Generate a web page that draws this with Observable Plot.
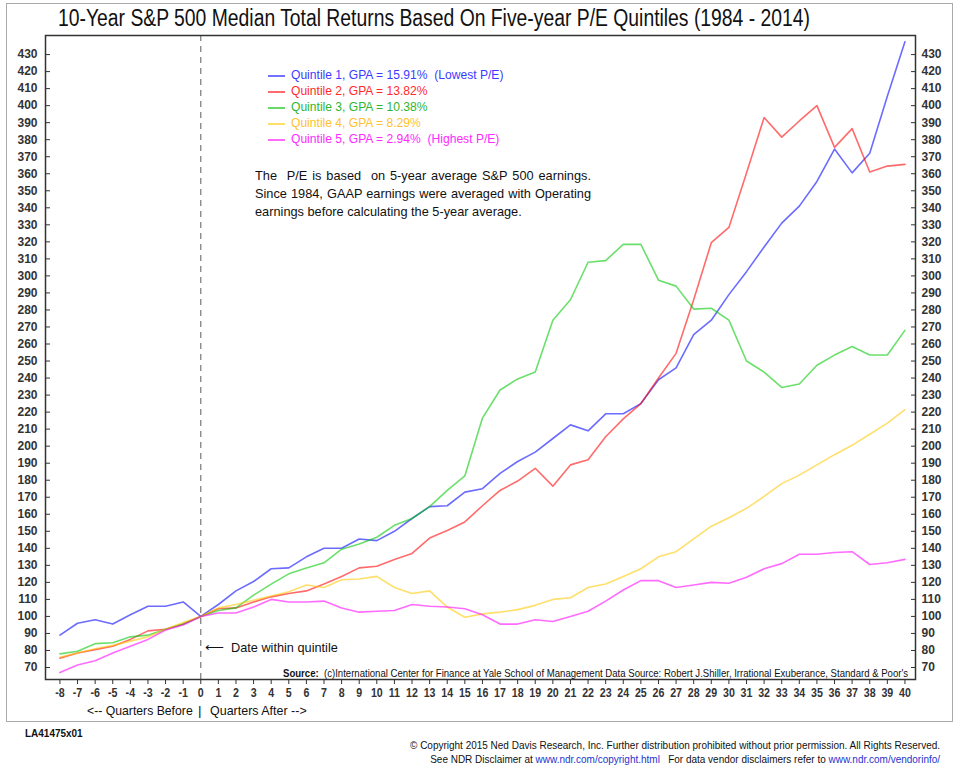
<!DOCTYPE html>
<html>
<head>
<meta charset="utf-8">
<script src="https://cdn.jsdelivr.net/npm/d3@7"></script>
<script src="https://cdn.jsdelivr.net/npm/@observablehq/plot@0.6"></script>
<style>
  html, body { margin: 0; padding: 0; background: #fff; }
  body { width: 961px; height: 772px; position: relative; overflow: hidden;
         font-family: "Liberation Sans", Arial, sans-serif; color: #222; }
  .abs { position: absolute; white-space: nowrap; }
  #outer { position: absolute; left: 6px; top: 3px; width: 945px; height: 717px; border: 1.5px solid #aaa; }
  #chart { position: absolute; left: 0; top: 0; }
  #title { left: 58px; top: 5px; font-size: 23.5px; color: #111; }
  #legend { left: 268px; top: 67px; font-size: 13px; line-height: 16px; }
  #legend .sw { display: inline-block; width: 17px; height: 2px; vertical-align: middle; margin-right: 6px; }
  #note { left: 255px; top: 167px; font-size: 13px; line-height: 18px; color: #111; }
  #note div { text-align: justify; text-align-last: justify; }
  #note div.last { text-align-last: left; }
  #source { left: 283px; top: 667px; font-size: 10.5px; color: #111; }
  #anno { left: 205px; top: 639px; font-size: 13.5px; color: #111; }
  #qb { left: 87px; top: 703px; font-size: 13.5px; color: #111; }
  #qbar { left: 198px; top: 703px; font-size: 13.5px; color: #111; }
  #qa { left: 210px; top: 703px; font-size: 13.5px; color: #111; }
  #code { left: 25px; top: 727px; font-size: 11px; font-weight: bold; color: #111; }
  #copy { right: 21px; top: 738px; font-size: 11px; line-height: 14px; text-align: right; color: #111; }
  #copy a { color: #2233cc; text-decoration: none; }
</style>
</head>
<body>
<div id="outer"></div>
<div id="chart"></div>
<div class="abs" id="title">10-Year S&amp;P 500 Median Total Returns Based On Five-year P/E Quintiles (1984 - 2014)</div>
<div class="abs" id="legend"></div>
<div class="abs" id="note">
  <div>The&nbsp; P/E is based&nbsp; on 5-year average S&amp;P 500 earnings.</div>
  <div>Since 1984, GAAP earnings were averaged with Operating</div>
  <div class="last"><span id="noteLast">earnings before calculating the 5-year average.</span></div>
</div>
<div class="abs" id="source"><b>Source:</b>&nbsp; (c)International Center for Finance at Yale School of Management Data Source: Robert J.Shiller, Irrational Exuberance, Standard &amp; Poor's</div>
<div class="abs" id="anno">&#x27F5;&nbsp; Date within quintile</div>
<div class="abs" id="qb">&lt;-- Quarters Before</div>
<div class="abs" id="qbar">|</div>
<div class="abs" id="qa">Quarters After --&gt;</div>
<div class="abs" id="code">LA41475x01</div>
<div class="abs" id="copy"><span id="copy1">© Copyright 2015 Ned Davis Research, Inc. Further distribution prohibited without prior permission. All Rights Reserved.</span><br>See NDR Disclaimer at <a>www.ndr.com/copyright.html</a>&nbsp;&nbsp; For data vendor disclaimers refer to <a>www.ndr.com/vendorinfo/</a></div>
<script>
const quarters = [-8,-7,-6,-5,-4,-3,-2,-1,0,1,2,3,4,5,6,7,8,9,10,11,12,13,14,15,16,17,18,19,20,21,22,23,24,25,26,27,28,29,30,31,32,33,34,35,36,37,38,39,40];

const quintile1 = [89,96,98,95.5,101,106,106,108.5,100,107,115,120.5,128,128.5,135,140,140,145.5,144.5,150,157.5,164.5,165,173,175,184,191,196.5,204.5,212.5,209,219,219,225,239,246,265.5,274,289,302.5,317,331,341,355.5,374.5,360.5,372,405.5,437.5];
const quintile2 = [75.5,78.5,80.5,82.5,86.5,91.5,92.5,95.5,100,104.5,105,108.5,111.5,113.5,115,119,123.5,128.5,129.5,133.5,137,146,150.5,155.5,165,174,179.5,187,176.5,189,192,205.5,216,225,240,254.5,286,319.5,328.5,360.5,393,381.5,391,400,375.5,386.5,361,364.5,365.5];
const quintile3 = [78,79.5,84,84.5,88,89,92.5,95.5,100,103.5,105,112.5,119,125,128.5,131.5,139.5,142.5,146.5,153.5,157.5,164.5,174,182.5,216.5,233,239.5,243.5,274,286,308,309,318.5,318.5,297.5,294,280.5,281,274,250,243.5,234.5,236.5,247.5,253.5,258.5,253.5,253.5,268];
const quintile4 = [76,78.5,81,83,85.5,88,92.5,96.5,100,105,107,109.5,112,114.5,118.5,117,121.5,122,123.5,117,113.5,115,105.5,99.5,101.5,102.5,104,106.5,110,111,117,119,123.5,128,135,138,145.5,153,158,163.5,170.5,178,183,189,195,200.5,207,213.5,221.5];
const quintile5 = [67,71.5,74,78.5,82.5,86.5,92,95,100,102,102,105.5,110,108.5,108.5,109,105,102.5,103,103.5,107,106,105.5,104.5,101,95.5,95.5,98,97,100,103,109,115.5,121,121,117,118.5,120,119.5,123,128,131,136.5,136.5,137.5,138,130.5,131.5,133.5];

const seriesNames = ["Quintile 1","Quintile 2","Quintile 3","Quintile 4","Quintile 5"];
const legendLabels = [
  "Quintile 1, GPA = 15.91%&nbsp; (Lowest P/E)",
  "Quintile 2, GPA = 13.82%",
  "Quintile 3, GPA = 10.38%",
  "Quintile 4, GPA = 8.29%",
  "Quintile 5, GPA = 2.94%&nbsp; (Highest P/E)"
];
const lineColors = ["#0000ff","#ff0000","#00c800","#ffc800","#ff00ff"];
const swatchColors = ["#7373ff","#ff6b6b","#66d966","#ffdf66","#ff6bff"];
const textColors = ["#3b3bff","#ff2a2a","#2fb52f","#ffc12e","#ff2aff"];
const yTicks = [70,80,90,100,110,120,130,140,150,160,170,180,190,200,210,220,230,240,250,260,270,280,290,300,310,320,330,340,350,360,370,380,390,400,410,420,430];

const allSeries = [quintile1, quintile2, quintile3, quintile4, quintile5];
const rows = [];
allSeries.forEach((vals, i) => vals.forEach((v, j) => rows.push({series: seriesNames[i], q: quarters[j], v})));

const fontFam = '"Liberation Sans", Arial, sans-serif';

const chart = Plot.plot({
  width: 961,
  height: 730,
  marginLeft: 45,
  marginRight: 46,
  marginTop: 35,
  marginBottom: 51,
  style: {fontFamily: fontFam, fontSize: "12px", color: "#222", background: "transparent"},
  x: {domain: [-8.82, 40.6], axis: null},
  y: {domain: [62.95, 441.2], axis: null},
  color: {domain: seriesNames, range: lineColors},
  marks: [
    Plot.ruleX([0], {stroke: "#777", strokeWidth: 1.2, strokeDasharray: "6,5"}),
    Plot.line(rows, {x: "q", y: "v", z: "series", stroke: "series", strokeWidth: 1.6, strokeOpacity: 0.58}),
    Plot.axisY({anchor: "left", label: null, ticks: yTicks, tickSize: 5, dx: 5, tickFormat: () => "", stroke: "#333"}),
    Plot.axisY({anchor: "left", label: null, ticks: yTicks, tickSize: 0, tickPadding: 8, fontWeight: "bold", fontSize: 12, fill: "#333"}),
    Plot.axisY({anchor: "right", label: null, ticks: yTicks, tickSize: 5, dx: -5, tickFormat: () => "", stroke: "#333"}),
    Plot.axisY({anchor: "right", label: null, ticks: yTicks, tickSize: 0, tickPadding: 6, fontWeight: "bold", fontSize: 12, fill: "#333"}),
    Plot.axisX({anchor: "bottom", label: null, ticks: quarters, tickSize: 5, tickPadding: 3, tickFormat: d => String(d), fontWeight: "bold", fontSize: 13, stroke: "#333", fill: "#333"}),
    Plot.frame({stroke: "#333", strokeWidth: 1.5})
  ]
});
document.getElementById("chart").appendChild(chart);

// condense x-axis labels slightly to mimic the narrow face of the original
d3.select(chart).selectAll("g[aria-label='x-axis tick label'] text").each(function() {
  const t = this.getAttribute("transform") || "";
  this.setAttribute("transform", t + " scale(0.82,1)");
});

const legend = document.getElementById("legend");
legendLabels.forEach((lab, i) => {
  const row = document.createElement("div");
  row.innerHTML = `<span class="sw" style="background:${swatchColors[i]}"></span><span class="lt" style="color:${textColors[i]}">${lab}</span>`;
  legend.appendChild(row);
});

function fit(el, natural, target, origin) {
  const s = target / natural;
  el.style.transformOrigin = origin;
  el.style.transform = `scaleX(${s})`;
  return s;
}
const byId = id => document.getElementById(id);
fit(byId("title"), byId("title").offsetWidth, 752, "left top");
{
  const firstText = legend.querySelector(".lt");
  const s = 212 / firstText.offsetWidth;
  legend.querySelectorAll(".lt").forEach(e => { e.style.display = "inline-block"; e.style.transformOrigin = "left center"; e.style.transform = `scaleX(${s})`; });
}
{
  const note = byId("note");
  const w3 = byId("noteLast").offsetWidth;
  const s = 267 / w3;
  note.style.width = (336 / s) + "px";
  note.style.transformOrigin = "left top";
  note.style.transform = `scaleX(${s})`;
}
fit(byId("source"), byId("source").offsetWidth, 625, "left top");
fit(byId("anno"), byId("anno").offsetWidth, 133, "left top");
fit(byId("qb"), byId("qb").offsetWidth, 106, "left top");
fit(byId("qa"), byId("qa").offsetWidth, 97, "left top");
fit(byId("code"), byId("code").offsetWidth, 58, "left top");
fit(byId("copy"), byId("copy1").offsetWidth, 530, "right top");
</script>
</body>
</html>
